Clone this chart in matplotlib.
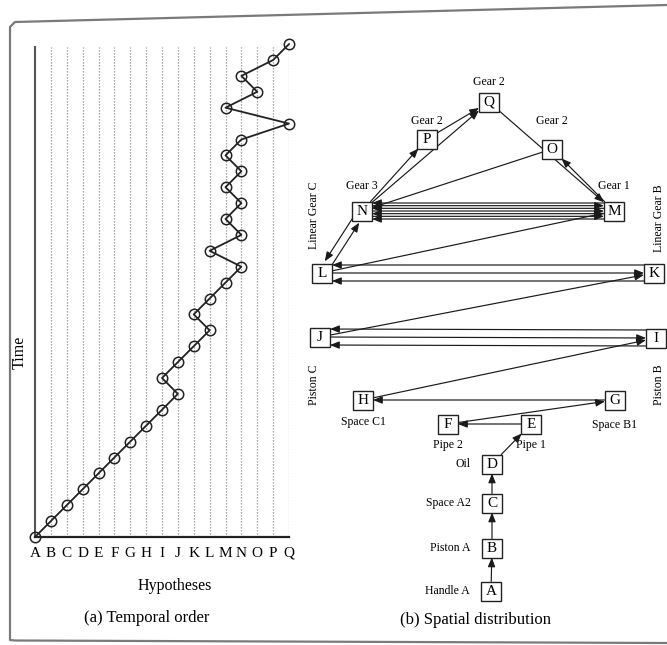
import numpy as np
import matplotlib
matplotlib.use("Agg")
import matplotlib.pyplot as plt

plt.rcParams['font.family'] = ['Liberation Serif', 'DejaVu Serif']

# ---------------- data ----------------
hypotheses = list("ABCDEFGHIJKLMNOPQ")
# order in which hypotheses were visited over time (panel a and edges of panel b)
sequence = ['A', 'B', 'C', 'D', 'E', 'F', 'G', 'H', 'I', 'J', 'I', 'J', 'K', 'L',
            'K', 'L', 'M', 'N', 'L', 'N', 'M', 'N', 'M', 'N', 'M', 'N', 'Q', 'M',
            'O', 'N', 'P', 'Q']

node_names = list("ABCDEFGHIJKLMNOPQ")
node_x = [491, 492, 492, 492, 531, 448, 615, 363, 656, 320, 654, 322, 614, 362, 552, 427, 489]
node_y = [591, 548, 503, 464, 424, 424, 400, 400, 338, 337, 273, 273, 211, 211, 149, 139, 102]
node_labels = ['Handle A', 'Piston A', 'Space A2', 'Oil', 'Pipe 1', 'Pipe 2', 'Space B1',
               'Space C1', 'Piston B', 'Piston C', 'Linear Gear B', 'Linear Gear C',
               'Gear 1', 'Gear 3', 'Gear 2', 'Gear 2', 'Gear 2']

# ---------------- figure ----------------
W, H = 667, 645
fig = plt.figure(figsize=(W / 100, H / 100), dpi=100)
fig.patch.set_facecolor('white')

# ---------- panel (a) ----------
x0, xQ, ybase, ytop = 35, 289, 537, 47
ystep = 15.9
ax1 = fig.add_axes([x0 / W, 1 - ybase / H, (xQ - x0) / W, (ybase - ytop) / H])
ax1.set_xlim(0, 16)
ax1.set_ylim(0, (ybase - ytop) / ystep)
idx = [hypotheses.index(s) for s in sequence]
t = np.arange(len(sequence))
ax1.vlines(np.arange(1, 17), 0, (ybase - ytop) / ystep, colors='#8a8a8a',
           linestyles=(0, (1, 1.4)), linewidth=0.9, zorder=1)
ax1.plot(idx, t, color='#222222', lw=1.3, marker='o', markersize=7.5,
         markerfacecolor='none', markeredgecolor='#222222', markeredgewidth=1.1,
         clip_on=False, zorder=3)
for s in ['top', 'right']:
    ax1.spines[s].set_visible(False)
ax1.spines['left'].set_linewidth(1.5)
ax1.spines['left'].set_color('#555555')
ax1.spines['bottom'].set_linewidth(1.6)
ax1.spines['bottom'].set_color('#222222')
ax1.set_xticks(range(17))
ax1.set_xticklabels(hypotheses, fontsize=11)
ax1.set_yticks([])
ax1.tick_params(axis='x', length=0, pad=7)
ax1.set_xlabel('Hypotheses', fontsize=11.5)
ax1.xaxis.set_label_coords((175 - x0) / (xQ - x0), (ybase - 578) / (ybase - ytop))

# ---------- overlay axes in pixel coordinates ----------
ax2 = fig.add_axes([0, 0, 1, 1])
ax2.set_xlim(0, W)
ax2.set_ylim(H, 0)
ax2.axis('off')
ax2.patch.set_visible(False)

ax2.text(20, 352, 'Time', fontsize=11.5, rotation=90, ha='center', va='center')

# outer frame (scanned, slightly tilted top)
r = 5
frame_x = [W, 10 + r, 10, 10, 10, 10 + r, W]
frame_y = [5, 22, 22 + r, 640 - r, 640, 640.5, 643]
ax2.plot(frame_x, frame_y, color='#7a7a7a', lw=1.6, solid_capstyle='round',
         solid_joinstyle='round', clip_on=False)

# captions
ax2.text(147, 618, '(a) Temporal order', fontsize=12, ha='center', va='center')
ax2.text(476, 620, '(b) Spatial distribution', fontsize=12, ha='center', va='center')

# ---------- panel (b) graph ----------
pos = {n: (x, y) for n, x, y in zip(node_names, node_x, node_y)}
hw, hh = 10, 9.5

for n in node_names:
    x, y = pos[n]
    ax2.add_patch(plt.Rectangle((x - hw, y - hh), 2 * hw, 2 * hh, fill=True,
                                facecolor='white', edgecolor='#222222', lw=1.0, zorder=5))
    ax2.text(x, y + 0.5, n, fontsize=11, ha='center', va='center', zorder=6)

# label placement
left_nodes = {'A', 'B', 'C', 'D'}
below_nodes = {'E': 21, 'F': 21, 'G': 25, 'H': 22}
above_nodes = {'M': -25, 'N': -25, 'O': -28, 'P': -18, 'Q': -20}
rot_nodes = {'L': (-8, -58), 'K': (5, -55), 'J': (-6, 48), 'I': (3, 47)}
for n, lab in zip(node_names, node_labels):
    x, y = pos[n]
    if n in left_nodes:
        ax2.text(x - 21, y, lab, fontsize=8.5, ha='right', va='center')
    elif n in below_nodes:
        ax2.text(x, y + below_nodes[n], lab, fontsize=8.5, ha='center', va='center')
    elif n in above_nodes:
        ax2.text(x, y + above_nodes[n], lab, fontsize=8.5, ha='center', va='center')
    else:
        dx, dy = rot_nodes[n]
        ax2.text(x + dx, y + dy, lab, fontsize=8.5, ha='center', va='center',
                 rotation=90, clip_on=False)

# edges following the sequence
pairs = list(zip(sequence[:-1], sequence[1:]))
totals = {}
for a, b in pairs:
    key = tuple(sorted((a, b)))
    totals[key] = totals.get(key, 0) + 1
seen = {}


def clip_t(d):
    dx, dy = abs(d[0]), abs(d[1])
    tx = hw / dx if dx > 1e-9 else np.inf
    ty = hh / dy if dy > 1e-9 else np.inf
    return min(tx, ty)


for a, b in pairs:
    key = tuple(sorted((a, b)))
    n = totals[key]
    k = seen.get(key, 0)
    seen[key] = k + 1
    p0 = np.array(pos[key[0]], float)
    p1 = np.array(pos[key[1]], float)
    d = p1 - p0
    perp = np.array([-d[1], d[0]]) / np.hypot(*d)
    sp = 0 if n == 1 else min(8.0, 16.0 / (n - 1))
    off = (k - (n - 1) / 2.0) * sp * perp
    pa = np.array(pos[a], float) + off
    pb = np.array(pos[b], float) + off
    dd = pb - pa
    start = pa + dd * clip_t(dd)
    end = pb - dd * clip_t(dd)
    ax2.annotate('', xy=end, xytext=start, xycoords='data', textcoords='data',
                 arrowprops=dict(arrowstyle='-|>,head_length=0.55,head_width=0.22',
                                 color='#1a1a1a', lw=0.85, shrinkA=0, shrinkB=0,
                                 mutation_scale=10), zorder=4)

fig.savefig('out.png', dpi=100, facecolor='white')
